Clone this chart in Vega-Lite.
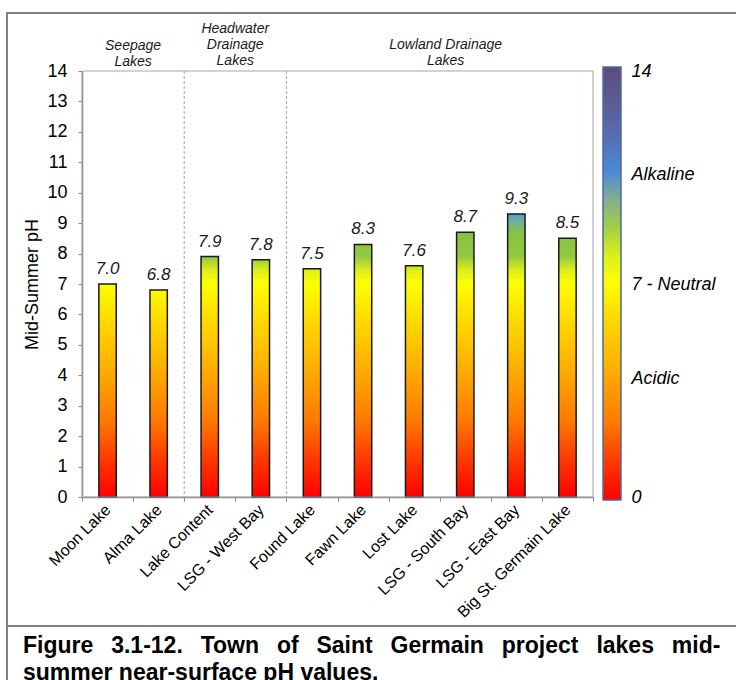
{
  "$schema": "https://vega.github.io/schema/vega-lite/v6.json",
  "width": 736,
  "height": 680,
  "autosize": {"type": "none"},
  "padding": 0,
  "background": "white",
  "config": {
    "view": {"stroke": null},
    "font": "Liberation Sans",
    "axis": {"labelFont": "Liberation Sans", "titleFont": "Liberation Sans", "labelColor": "#000000", "titleColor": "#000000", "grid": false}
  },
  "title": {
    "text": ["Figure\u2002 3.1-12.\u2002 Town\u2002 of\u2002 Saint\u2002 Germain\u2002 project\u2002 lakes\u2002 mid-", "summer near-surface pH values."],
    "orient": "bottom",
    "anchor": "start",
    "frame": "group",
    "offset": -29,
    "dx": 23,
    "baseline": "alphabetic",
    "font": "Liberation Sans",
    "fontSize": 23,
    "fontWeight": "bold",
    "color": "#000000",
    "lineHeight": 27.5
  },
  "data": {
    "values": [
      {"lake": "Moon Lake", "type": "Seepage Lakes", "ph": 7.0},
      {"lake": "Alma Lake", "type": "Seepage Lakes", "ph": 6.8},
      {"lake": "Lake Content", "type": "Headwater Drainage Lakes", "ph": 7.9},
      {"lake": "LSG - West Bay", "type": "Headwater Drainage Lakes", "ph": 7.8},
      {"lake": "Found Lake", "type": "Lowland Drainage Lakes", "ph": 7.5},
      {"lake": "Fawn Lake", "type": "Lowland Drainage Lakes", "ph": 8.3},
      {"lake": "Lost Lake", "type": "Lowland Drainage Lakes", "ph": 7.6},
      {"lake": "LSG - South Bay", "type": "Lowland Drainage Lakes", "ph": 8.7},
      {"lake": "LSG - East Bay", "type": "Lowland Drainage Lakes", "ph": 9.3},
      {"lake": "Big St. Germain Lake", "type": "Lowland Drainage Lakes", "ph": 8.5}
    ]
  },
  "layer": [
    {
      "mark": {
        "type": "bar",
        "width": {"band": 0.34},
        "stroke": null,
        "fill": {"gradient": "linear", "x1": 0, "y1": 1, "x2": 0, "y2": 0, "stops": [
          {"offset": 0, "color": "#ff0000"},
          {"offset": 0.08, "color": "#ff3300"},
          {"offset": 0.18, "color": "#ff7a00"},
          {"offset": 0.3, "color": "#ffad00"},
          {"offset": 0.42, "color": "#ffdc00"},
          {"offset": 0.5, "color": "#ffff00"},
          {"offset": 0.53, "color": "#e0f018"},
          {"offset": 0.565, "color": "#94c840"},
          {"offset": 0.62, "color": "#86c244"},
          {"offset": 0.65, "color": "#6aaea6"},
          {"offset": 0.675, "color": "#4a8ad6"},
          {"offset": 0.8, "color": "#5868a8"},
          {"offset": 1, "color": "#604a7c"}
        ]}
      },
      "encoding": {
        "x": {"field": "lake", "type": "nominal", "sort": null, "axis": null,
          "scale": {"domain": ["Moon Lake", "Alma Lake", "Lake Content", "LSG - West Bay", "Found Lake", "Fawn Lake", "Lost Lake", "LSG - South Bay", "LSG - East Bay", "Big St. Germain Lake"], "range": [82, 593], "paddingInner": 0, "paddingOuter": 0}},
        "y": {"datum": 14, "type": "quantitative", "axis": null,
          "scale": {"domain": [0, 14], "range": [497, 71], "nice": false, "zero": true}},
        "y2": {"datum": 0}
      }
    },
    {
      "mark": {"type": "bar", "width": {"band": 0.37}, "fill": "white", "stroke": null},
      "encoding": {
        "x": {"field": "lake", "type": "nominal", "sort": null, "axis": null,
          "scale": {"domain": ["Moon Lake", "Alma Lake", "Lake Content", "LSG - West Bay", "Found Lake", "Fawn Lake", "Lost Lake", "LSG - South Bay", "LSG - East Bay", "Big St. Germain Lake"], "range": [82, 593], "paddingInner": 0, "paddingOuter": 0}},
        "y": {"field": "ph", "type": "quantitative", "axis": null,
          "scale": {"domain": [0, 14], "range": [497, 71], "nice": false, "zero": true}},
        "y2": {"datum": 14.3}
      }
    },
    {
      "transform": [{"filter": {"field": "lake", "oneOf": ["Lake Content", "Found Lake"]}}],
      "mark": {"type": "rule", "stroke": "#a0a0a0", "strokeWidth": 1, "strokeDash": [3, 2]},
      "encoding": {
        "x": {"field": "lake", "type": "nominal", "sort": null, "bandPosition": 0, "axis": null,
          "scale": {"domain": ["Moon Lake", "Alma Lake", "Lake Content", "LSG - West Bay", "Found Lake", "Fawn Lake", "Lost Lake", "LSG - South Bay", "LSG - East Bay", "Big St. Germain Lake"], "range": [82, 593], "paddingInner": 0, "paddingOuter": 0}},
        "y": {"datum": 14, "type": "quantitative", "axis": null,
          "scale": {"domain": [0, 14], "range": [497, 71], "nice": false, "zero": true}},
        "y2": {"datum": -0.17}
      }
    },
    {
      "mark": {"type": "bar", "width": {"band": 0.34}, "fill": "transparent", "stroke": "#1a1a1a", "strokeWidth": 1.5},
      "encoding": {
        "x": {
          "field": "lake", "type": "nominal", "sort": null,
          "scale": {"domain": ["Moon Lake", "Alma Lake", "Lake Content", "LSG - West Bay", "Found Lake", "Fawn Lake", "Lost Lake", "LSG - South Bay", "LSG - East Bay", "Big St. Germain Lake"], "range": [82, 593], "paddingInner": 0, "paddingOuter": 0},
          "axis": {
            "orient": "bottom", "offset": -183, "title": null,
            "labelAngle": -45, "labelAlign": "right", "labelBaseline": "middle",
            "labelFontSize": 16, "labelPadding": 6, "labelColor": "#000000",
            "tickBand": "extent", "tickSize": 4, "tickColor": "#868686",
            "domainColor": "#868686", "domainWidth": 1.5
          }
        },
        "y": {
          "field": "ph", "type": "quantitative",
          "scale": {"domain": [0, 14], "range": [497, 71], "nice": false, "zero": true},
          "axis": {
            "orient": "left", "offset": -82, "title": "Mid-Summer pH",
            "values": [0, 1, 2, 3, 4, 5, 6, 7, 8, 9, 10, 11, 12, 13, 14],
            "labelFontSize": 18, "labelPadding": 11, "labelOverlap": false,
            "tickSize": 4, "tickColor": "#868686",
            "domainColor": "#868686", "domainWidth": 1.5,
            "titleFontSize": 18, "titleFontWeight": "normal", "titlePadding": 5
          }
        }
      }
    },
    {
      "mark": {"type": "text", "fontStyle": "italic", "fontSize": 17, "dy": -10, "baseline": "alphabetic", "color": "#1a1a1a"},
      "encoding": {
        "x": {"field": "lake", "type": "nominal", "sort": null, "axis": null,
          "scale": {"domain": ["Moon Lake", "Alma Lake", "Lake Content", "LSG - West Bay", "Found Lake", "Fawn Lake", "Lost Lake", "LSG - South Bay", "LSG - East Bay", "Big St. Germain Lake"], "range": [82, 593], "paddingInner": 0, "paddingOuter": 0}},
        "y": {"field": "ph", "type": "quantitative", "axis": null,
          "scale": {"domain": [0, 14], "range": [497, 71], "nice": false, "zero": true}},
        "text": {"field": "ph", "type": "quantitative", "format": ".1f"}
      }
    },
    {
      "transform": [{"filter": {"field": "lake", "equal": "Moon Lake"}}],
      "mark": {"type": "text", "fontStyle": "italic", "fontSize": 14, "baseline": "bottom", "lineHeight": 16, "dx": 25.5, "dy": -18, "color": "#1a1a1a"},
      "encoding": {
        "x": {"field": "lake", "type": "nominal", "sort": null, "axis": null,
          "scale": {"domain": ["Moon Lake", "Alma Lake", "Lake Content", "LSG - West Bay", "Found Lake", "Fawn Lake", "Lost Lake", "LSG - South Bay", "LSG - East Bay", "Big St. Germain Lake"], "range": [82, 593], "paddingInner": 0, "paddingOuter": 0}},
        "y": {"datum": 14, "type": "quantitative", "axis": null,
          "scale": {"domain": [0, 14], "range": [497, 71], "nice": false, "zero": true}},
        "text": {"value": ["Seepage", "Lakes"]}
      }
    },
    {
      "transform": [{"filter": {"field": "lake", "equal": "Lake Content"}}],
      "mark": {"type": "text", "fontStyle": "italic", "fontSize": 14, "baseline": "bottom", "lineHeight": 16, "dx": 25.5, "dy": -35, "color": "#1a1a1a"},
      "encoding": {
        "x": {"field": "lake", "type": "nominal", "sort": null, "axis": null,
          "scale": {"domain": ["Moon Lake", "Alma Lake", "Lake Content", "LSG - West Bay", "Found Lake", "Fawn Lake", "Lost Lake", "LSG - South Bay", "LSG - East Bay", "Big St. Germain Lake"], "range": [82, 593], "paddingInner": 0, "paddingOuter": 0}},
        "y": {"datum": 14, "type": "quantitative", "axis": null,
          "scale": {"domain": [0, 14], "range": [497, 71], "nice": false, "zero": true}},
        "text": {"value": ["Headwater", "Drainage", "Lakes"]}
      }
    },
    {
      "transform": [{"filter": {"field": "lake", "equal": "Lost Lake"}}],
      "mark": {"type": "text", "fontStyle": "italic", "fontSize": 14, "baseline": "bottom", "lineHeight": 16, "dx": 31.5, "dy": -19, "color": "#1a1a1a"},
      "encoding": {
        "x": {"field": "lake", "type": "nominal", "sort": null, "axis": null,
          "scale": {"domain": ["Moon Lake", "Alma Lake", "Lake Content", "LSG - West Bay", "Found Lake", "Fawn Lake", "Lost Lake", "LSG - South Bay", "LSG - East Bay", "Big St. Germain Lake"], "range": [82, 593], "paddingInner": 0, "paddingOuter": 0}},
        "y": {"datum": 14, "type": "quantitative", "axis": null,
          "scale": {"domain": [0, 14], "range": [497, 71], "nice": false, "zero": true}},
        "text": {"value": ["Lowland Drainage", "Lakes"]}
      }
    },
    {
      "data": {"values": [{"part": "frame top"}]},
      "mark": {"type": "rule", "stroke": "#808080", "strokeWidth": 2, "strokeCap": "square"},
      "encoding": {
        "x": {"datum": -0.1468, "type": "quantitative", "scale": {"domain": [0, 1], "range": [82, 593], "nice": false, "zero": false}, "axis": null},
        "x2": {"datum": 1.3},
        "y": {
          "datum": 15.905, "type": "quantitative",
          "scale": {"domain": [0, 14], "range": [497, 71], "nice": false, "zero": true},
          "axis": {
            "orient": "right", "offset": -105, "title": null,
            "values": [0, 3.9, 7, 10.6, 14],
            "labelExpr": "datum.value == 14 ? '14' : datum.value == 10.6 ? 'Alkaline' : datum.value == 7 ? '7 - Neutral' : datum.value == 3.9 ? 'Acidic' : '0'",
            "labelFontSize": 18, "labelFontStyle": "italic", "labelAlign": "left", "labelBaseline": "middle",
            "labelPadding": 0, "labelOverlap": false, "labelColor": "#000000",
            "domain": false, "ticks": false, "tickSize": 0
          }
        }
      }
    },
    {
      "data": {"values": [{"part": "frame left"}]},
      "mark": {"type": "rule", "stroke": "#808080", "strokeWidth": 2, "strokeCap": "square"},
      "encoding": {
        "x": {"datum": -0.1468, "type": "quantitative", "scale": {"domain": [0, 1], "range": [82, 593], "nice": false, "zero": false}, "axis": null},
        "y": {"datum": 15.905, "type": "quantitative", "scale": {"domain": [0, 14], "range": [497, 71], "nice": false, "zero": true}, "axis": null},
        "y2": {"datum": -6.02}
      }
    },
    {
      "data": {"values": [{"part": "caption divider"}]},
      "mark": {"type": "rule", "stroke": "#808080", "strokeWidth": 2, "strokeCap": "square"},
      "encoding": {
        "x": {"datum": -0.1468, "type": "quantitative", "scale": {"domain": [0, 1], "range": [82, 593], "nice": false, "zero": false}, "axis": null},
        "x2": {"datum": 1.3},
        "y": {"datum": -4.239, "type": "quantitative", "scale": {"domain": [0, 14], "range": [497, 71], "nice": false, "zero": true}, "axis": null}
      }
    },
    {
      "data": {"values": [{"part": "plot border"}]},
      "mark": {"type": "rect", "fill": "transparent", "stroke": "#a6a6a6", "strokeWidth": 1},
      "encoding": {
        "x": {"datum": 0, "type": "quantitative", "scale": {"domain": [0, 1], "range": [82, 593], "nice": false, "zero": false}, "axis": null},
        "x2": {"datum": 1},
        "y": {"datum": 0, "type": "quantitative", "scale": {"domain": [0, 14], "range": [497, 71], "nice": false, "zero": true}, "axis": null},
        "y2": {"datum": 14}
      }
    },
    {
      "data": {"values": [{"part": "pH colour bar"}]},
      "mark": {
        "type": "rect", "stroke": "#4b6b9b", "strokeWidth": 1.5,
        "fill": {"gradient": "linear", "x1": 0, "y1": 1, "x2": 0, "y2": 0, "stops": [
          {"offset": 0, "color": "#ff0000"},
          {"offset": 0.08, "color": "#ff3300"},
          {"offset": 0.18, "color": "#ff7a00"},
          {"offset": 0.3, "color": "#ffad00"},
          {"offset": 0.42, "color": "#ffd800"},
          {"offset": 0.5, "color": "#ffff00"},
          {"offset": 0.57, "color": "#d8ec22"},
          {"offset": 0.63, "color": "#a2cf45"},
          {"offset": 0.7, "color": "#7eaa98"},
          {"offset": 0.76, "color": "#4a8ad6"},
          {"offset": 0.86, "color": "#5868a8"},
          {"offset": 1, "color": "#604a7c"}
        ]}
      },
      "encoding": {
        "x": {"datum": 1.0196, "type": "quantitative", "scale": {"domain": [0, 1], "range": [82, 593], "nice": false, "zero": false}, "axis": null},
        "x2": {"datum": 1.0548},
        "y": {"datum": 14.13, "type": "quantitative", "scale": {"domain": [0, 14], "range": [497, 71], "nice": false, "zero": true}, "axis": null},
        "y2": {"datum": -0.1}
      }
    }
  ],
  "resolve": {"scale": {"x": "independent", "y": "independent"}}
}
